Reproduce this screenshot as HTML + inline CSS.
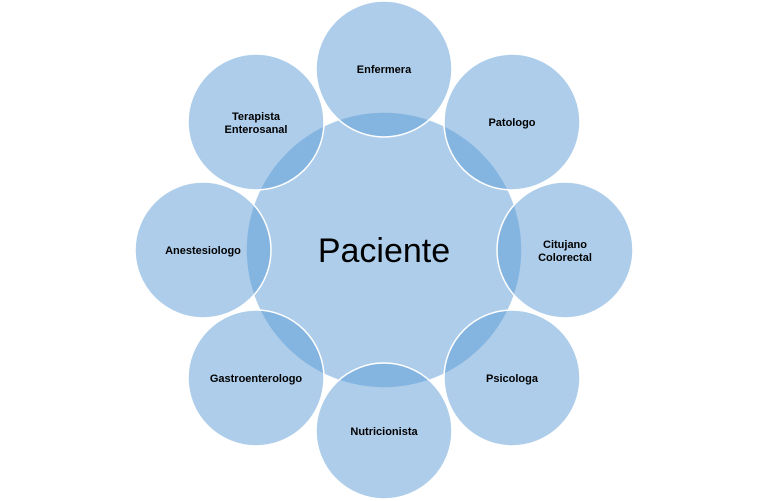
<!DOCTYPE html>
<html><head><meta charset="utf-8"><style>
html,body{margin:0;padding:0;background:#fff;}
svg{display:block;}
text{font-family:"Liberation Sans",Arial,sans-serif;}
</style></head><body>
<svg width="768" height="501" viewBox="0 0 768 501" xmlns="http://www.w3.org/2000/svg">
<g fill="rgb(91,155,213)" fill-opacity="0.5" stroke="#fff" stroke-width="1.5">
<circle cx="384" cy="250" r="138"/>
<circle cx="384" cy="69" r="68"/>
<circle cx="512" cy="122" r="68"/>
<circle cx="565" cy="250" r="68"/>
<circle cx="512" cy="378" r="68"/>
<circle cx="384" cy="431" r="68"/>
<circle cx="256" cy="378" r="68"/>
<circle cx="203" cy="250" r="68"/>
<circle cx="256" cy="122" r="68"/>
</g>
<g font-size="11" font-weight="bold" fill="#000" text-anchor="middle">
<text x="384" y="73">Enfermera</text>
<text x="512" y="126">Patologo</text>
<text x="565" y="248">Citujano</text>
<text x="565" y="261">Colorectal</text>
<text x="512" y="382">Psicologa</text>
<text x="384" y="435">Nutricionista</text>
<text x="256" y="382">Gastroenterologo</text>
<text x="203" y="254">Anestesiologo</text>
<text x="256" y="120">Terapista</text>
<text x="256" y="133">Enterosanal</text>
</g>
<text x="384" y="262" font-size="34" text-anchor="middle" fill="#000">Paciente</text>
</svg>
</body></html>
